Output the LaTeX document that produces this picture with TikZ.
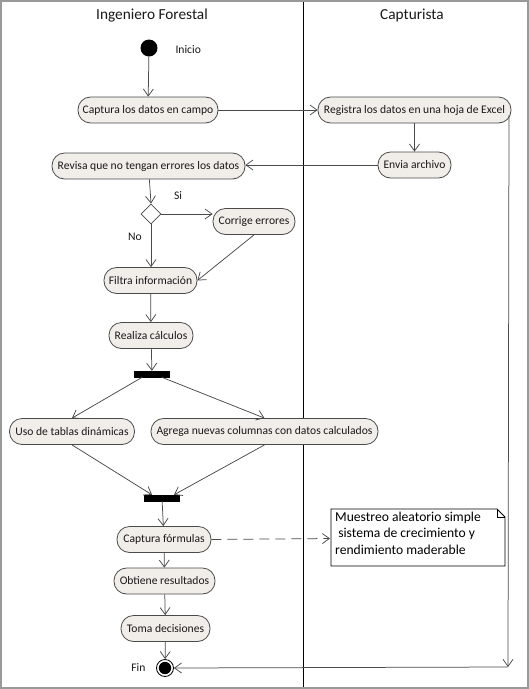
\documentclass[tikz,border=0pt]{standalone}
\usepackage{fontspec}
\setmainfont{Carlito}
\usetikzlibrary{arrows.meta,shapes.geometric,positioning}
\definecolor{actfill}{HTML}{F1EEEA}
\definecolor{lin}{HTML}{4A4A4A}
\tikzset{
  act/.style={draw=lin, line width=0.8pt, fill=actfill, rounded corners=12.5pt, minimum height=26pt, inner xsep=3pt, inner ysep=0pt, font=\fontsize{11.6}{13}\selectfont, text=black!90},
  flow/.style={draw=lin, line width=0.75pt, -{Straight Barb[length=7pt,width=10pt,line width=0.75pt]}},
  bar/.style={fill=black, draw=black, inner sep=0pt},
  lbl/.style={font=\fontsize{11.6}{13}\selectfont, text=black!90},
}
\begin{document}
\begin{tikzpicture}[x=1pt,y=-1pt]
\useasboundingbox (0,0) rectangle (529,689);
\fill[white] (0,0) rectangle (529,689);
\draw[black!40, line width=2.2pt] (1.1,1.1) rectangle (527.9,687.9);
% swimlane divider
\draw[black, line width=0.8pt] (303,2) -- (303,687);
\node[font=\fontsize{15.3}{17}\selectfont, text=black!90] (t1) at (152,15) {Ingeniero Forestal};
\node[font=\fontsize{15.3}{17}\selectfont, text=black!90] (t2) at (412,15) {Capturista};

% start
\node[circle, fill=black, minimum size=17pt, inner sep=0pt] (start) at (149,48) {};
\node[lbl, anchor=west] (inicio) at (172,50) {Inicio};

\node[act, minimum width=140] (cap) at (148,110) {Captura los datos en campo};
\node[act, minimum width=193] (reg) at (414.5,110) {Registra los datos en una hoja de Excel};
\node[act, minimum width=73] (env) at (414.5,165) {Envia archivo};
\node[act, minimum width=193] (rev) at (148.5,166) {Revisa que no tengan errores los datos};
\node[diamond, draw=lin, line width=0.8pt, fill=white, minimum width=20pt, minimum height=20pt, inner sep=0pt] (dec) at (151,214) {};
\node[lbl] (si) at (178,196) {Si};
\node[lbl] (no) at (135,237) {No};
\node[act, minimum width=82] (cor) at (254,221.5) {Corrige errores};
\node[act, minimum width=93] (fil) at (150.5,280.5) {Filtra información};
\node[act, minimum width=84] (rea) at (151,335.5) {Realiza cálculos};
\node[bar, minimum width=35pt, minimum height=6pt] (fork) at (152,374) {};
\node[act, minimum width=125] (uso) at (72,431.5) {Uso de tablas dinámicas};
\node[act, minimum width=227] (agr) at (264.5,431.5) {Agrega nuevas columnas con datos calculados};
\node[bar, minimum width=35pt, minimum height=6pt] (join) at (162,498) {};
\node[act, minimum width=94] (cf) at (164,539.5) {Captura fórmulas};
\node[act, minimum width=101] (obt) at (164.5,581) {Obtiene resultados};
\node[act, minimum width=89] (tom) at (165.5,628.5) {Toma decisiones};

% end
\node[circle, draw=black, line width=0.8pt, fill=white, minimum size=17pt, inner sep=0pt] (fin) at (165,668) {};
\fill[black] (fin.center) circle (6.2pt);
\node[lbl, anchor=east] (finl) at (149,668) {Fin};

% note
\draw[black, line width=0.8pt, fill=white] (331,509) -- (497,509) -- (505,517) -- (505,566) -- (331,566) -- cycle;
\draw[black, line width=0.6pt] (497,509) -- (497,517) -- (505,517);
\node[anchor=north west, align=left, inner sep=0pt, font=\fontsize{13.6}{16.5}\selectfont, text=black] (note) at (335,511.5) {Muestreo aleatorio simple\\\ sistema de crecimiento y\\rendimiento maderable};
\coordinate (notew) at (330,538.5);

% flows
\draw[flow] (start) -- (cap);
\draw[flow] (cap) -- (reg);
\draw[flow] (reg.south |- 0,123) -- (env);
\draw[flow] (env) -- (rev.east |- env.west);
\draw[flow] (rev) -- (dec.north);
\draw[flow] (dec.east) -- (dec.east -| cor.west);
\draw[flow] (dec.south) -- (fil.north -| dec.south);
\draw[flow] (cor.south) -- (fil.east);
\draw[flow] (fil) -- (rea);
\draw[flow] (rea) -- (fork);
\draw[flow] (fork.south west) ++(8,0) coordinate (f1) (f1) -- (uso.north);
\draw[flow] (fork.south east) ++(-8,0) coordinate (f2) (f2) -- (agr.north);
\draw[flow] (uso.south) -- (join.north west -| 152,0);
\draw[flow] (agr.south) -- (join.north east -| 174,0);
\draw[flow] (join) -- (cf);
\draw[flow] (cf) -- (obt);
\draw[flow] (obt) -- (tom);
\draw[flow] (tom) -- (fin);
\draw[flow, dash pattern=on 10pt off 6pt] (cf.east) -- (notew);
\coordinate (c1) at (509,115);
\coordinate (c2) at (508,667);
\draw[flow] (c1) -- (c2);
\draw[flow] (c2) -- (fin.east);
\end{tikzpicture}
\end{document}
